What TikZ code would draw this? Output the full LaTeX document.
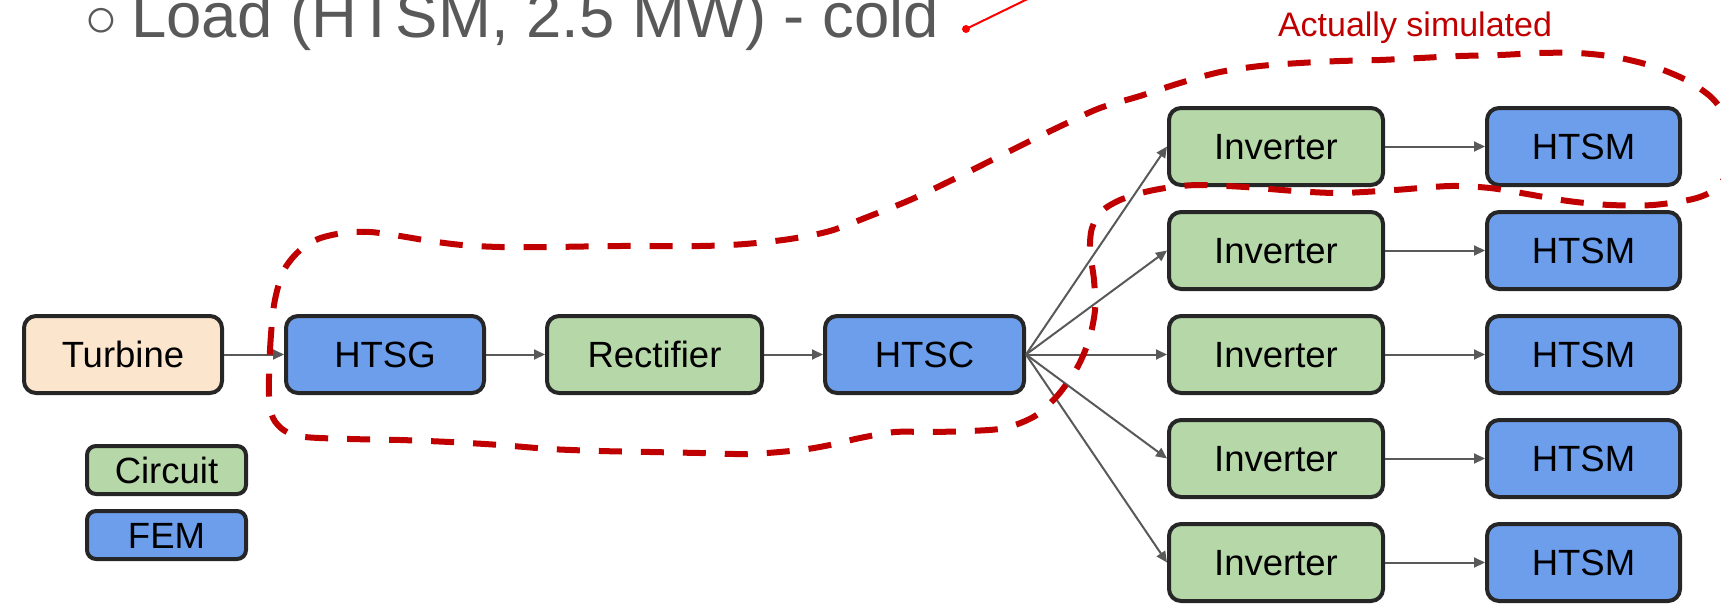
\documentclass[tikz,border=0pt]{standalone}
\usepackage{fontspec}
\setmainfont{Liberation Sans}
\usetikzlibrary{arrows.meta}
\definecolor{boxgreen}{HTML}{B6D7A8}
\definecolor{boxblue}{HTML}{6D9EEB}
\definecolor{boxpeach}{HTML}{FCE5CD}
\definecolor{boxline}{HTML}{262626}
\definecolor{arrowgray}{HTML}{595959}
\definecolor{darkred}{HTML}{C00000}
\definecolor{brightred}{HTML}{FF0000}
\definecolor{textgray}{HTML}{595959}
\begin{document}
\begin{tikzpicture}[x=1pt,y=-1pt,
  box/.style={draw=boxline, line width=4pt, rounded corners=12pt, minimum height=77pt,
    inner sep=0pt, font=\fontsize{36.5}{40}\selectfont, text height=26pt, text depth=0pt},
  circuitbox/.style={box, fill=boxgreen},
  fembox/.style={box, fill=boxblue},
  sourcebox/.style={box, fill=boxpeach},
  legendbox/.style={box, rounded corners=9pt, minimum width=159pt, minimum height=48pt},
  conn/.style={draw=arrowgray, line width=2pt, -{Triangle[length=11pt,width=10pt]}},
  region/.style={draw=darkred, line width=6pt, dash pattern=on 23pt off 19pt},
  inv/.style={circuitbox, minimum width=214pt},
  motor/.style={fembox, minimum width=193pt}
]
\useasboundingbox (0,0) rectangle (1721,603);
\clip (0,0) rectangle (1721,603);

% main chain
\node[sourcebox, minimum width=198pt] (turbine) at (123,354.5) {Turbine};
\node[fembox, minimum width=198pt] (htsg) at (385,354.5) {HTSG};
\node[circuitbox, minimum width=215pt] (rect) at (654.5,354.5) {Rectifier};
\node[fembox, minimum width=199pt] (htsc) at (924.5,354.5) {HTSC};

\foreach \i/\yy in {1/146.5,2/250.5,3/354.5,4/458.5,5/562.5}{
  \node[inv] (inv\i) at (1276,\yy) {Inverter};
  \node[motor] (htsm\i) at (1583.5,\yy) {HTSM};
}

% legend
\node[legendbox, fill=boxgreen] (legc) at (166.5,470) {Circuit};
\node[legendbox, fill=boxblue] (legf) at (166.5,535) {FEM};

% connectors
\draw[conn] (turbine) -- (htsg);
\draw[conn] (htsg) -- (rect);
\draw[conn] (rect) -- (htsc);
\foreach \i in {1,...,5}{
  \draw[conn] (htsc.east) -- (inv\i.west);
  \draw[conn] (inv\i) -- (htsm\i);
}

% simulated region
\draw[region] plot[smooth cycle, tension=0.5] coordinates {
(269,395) (270,350) (274,305) (283,272) (298,252) (318,239) (343,233) (370,232)
(400,236) (430,241) (462,245) (500,247) (550,247) (620,246) (700,246) (745,244)
(790,239) (830,231) (870,216) (910,200) (950,181) (990,161) (1030,141) (1065,124)
(1100,108) (1140,96) (1180,83) (1220,72) (1260,66) (1300,63) (1340,61) (1380,60)
(1420,58) (1460,56) (1500,55) (1540,53) (1578,53) (1615,57) (1652,66) (1686,80)
(1712,98) (1729,122) (1735,150) (1728,173) (1714,190) (1693,199) (1653,205) (1610,205)
(1568,201) (1527,194) (1490,188) (1450,186) (1395,190) (1340,193) (1295,191) (1245,187)
(1200,185) (1172,187) (1145,192) (1120,200) (1102,211) (1092,228) (1090,250) (1094,280)
(1095,310) (1089,340) (1077,368) (1058,395) (1035,416) (1005,428) (970,431) (930,432)
(895,432) (860,438) (830,445) (800,450) (750,454) (700,453) (650,452) (600,451)
(550,449) (500,445) (450,442) (400,440) (350,439) (305,437) (285,431) (273,418)};

% texts at top
\node[anchor=base west, inner sep=0pt, text=textgray, font=\fontsize{56}{60}\selectfont] (bullet) at (84,37) {○};
\node[anchor=base west, inner sep=0pt, text=textgray, font=\fontsize{63.5}{70}\selectfont] (load) at (131,37) {Load (HTSM, 2.5 MW) - cold};
\node[anchor=base, inner sep=0pt, text=darkred, font=\fontsize{34}{40}\selectfont] (simlabel) at (1415,36) {Actually simulated};

% pointer
\coordinate (dot) at (966,29);
\coordinate (ptrend) at (1046,-10);
\draw[brightred, line width=2pt] (dot) -- (ptrend);
\fill[brightred] (dot) circle (4pt);
\end{tikzpicture}
\end{document}
